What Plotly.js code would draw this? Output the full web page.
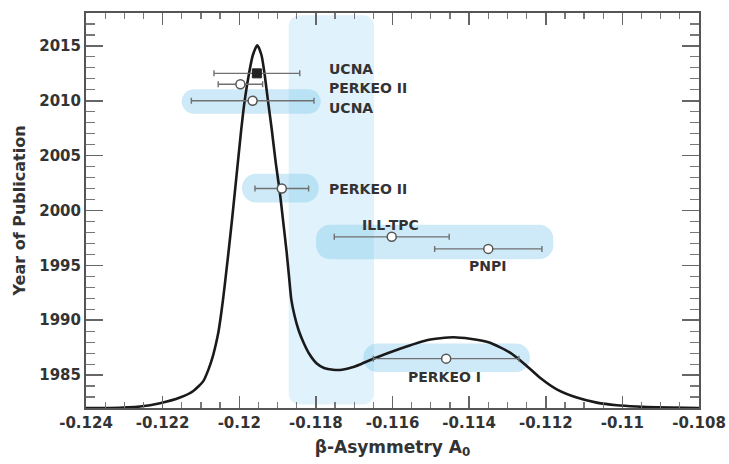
<!DOCTYPE html>
<html>
<head>
<meta charset="utf-8">
<script src="https://cdn.plot.ly/plotly-3.0.1.min.js"></script>
<style>html,body{margin:0;padding:0;background:#fff;}#chart{width:729px;height:464px;}</style>
</head>
<body>
<div id="chart"></div>
<script>
// ---- Data ----
// Ideogram curve (beta-asymmetry A0 vs. "year" scale)
const curveA = [-0.124000,-0.123374,-0.122590,-0.122068,-0.121546,-0.121199,-0.120938,-0.120802,-0.120698,-0.120612,-0.120547,-0.120481,-0.120424,-0.120382,-0.120283,-0.120189,-0.120038,-0.119949,-0.119860,-0.119745,-0.119646,-0.119529,-0.119419,-0.119341,-0.119249,-0.119150,-0.119046,-0.118949,-0.118858,-0.118761,-0.118693,-0.118641,-0.118558,-0.118448,-0.118323,-0.118179,-0.117978,-0.117787,-0.117553,-0.117318,-0.117023,-0.116848,-0.116500,-0.115804,-0.115107,-0.114412,-0.113976,-0.113454,-0.112932,-0.112541,-0.112149,-0.111713,-0.111191,-0.110669,-0.110147,-0.109625,-0.109103,-0.108000];
const curveYear = [1982.00,1982.00,1982.13,1982.43,1982.95,1983.55,1984.45,1985.52,1986.61,1987.79,1988.85,1990.36,1991.88,1993.09,1996.13,1999.15,2004.31,2007.34,2009.97,2012.49,2014.15,2015.06,2014.15,2012.49,2009.97,2007.34,2004.31,2001.88,1999.15,1996.13,1993.70,1991.88,1990.43,1989.06,1987.97,1986.97,1986.06,1985.65,1985.49,1985.49,1985.73,1985.97,1986.49,1987.40,1988.18,1988.45,1988.31,1987.95,1987.04,1985.97,1984.76,1983.70,1982.95,1982.49,1982.25,1982.13,1982.06,1982.00];

// Measurements
const expNames  = ['UCNA', 'PERKEO II', 'UCNA', 'PERKEO II', 'ILL-TPC', 'PNPI', 'PERKEO I'];
const expA      = [-0.11954, -0.11997, -0.11965, -0.11889, -0.11602, -0.11350, -0.11460];
const expErr    = [0.00112, 0.00058, 0.00160, 0.00070, 0.00150, 0.00140, 0.00190];
const expYear   = [2012.5, 2011.5, 2010.0, 2002.0, 1997.6, 1996.5, 1986.5];
const expFilled = [true, false, false, false, false, false, false];

// Labels
const labelText = ['UCNA', 'PERKEO II', 'UCNA', 'PERKEO II', 'ILL-TPC', 'PNPI', 'PERKEO I'];
const labelA    = [-0.11770, -0.11770, -0.11770, -0.11770, -0.11604, -0.11351, -0.11463];
const labelYear = [2012.88, 2011.15, 2009.34, 2001.97, 1998.67, 1994.97, 1984.82];
const labelAnchor = ['left', 'left', 'left', 'left', 'center', 'center', 'center'];

// Highlight regions (A0 range, year range)
const bandA0   = [-0.118709];
const bandA1   = [-0.116482];
const bandY0   = [1982.33];
const bandY1   = [2017.79];
const pillA0   = [-0.121502, -0.119928, -0.117996, -0.116762];
const pillA1   = [-0.117874, -0.117926, -0.111802, -0.112410];
const pillY0   = [2008.82, 2000.73, 1995.56, 1985.27];
const pillY1   = [2011.06, 2003.34, 1998.70, 1987.88];

// Axis ticks
const xTickVals = [-0.124, -0.122, -0.120, -0.118, -0.116, -0.114, -0.112, -0.110, -0.108];
const xTickText = ['-0.124', '-0.122', '-0.12', '-0.118', '-0.116', '-0.114', '-0.112', '-0.11', '-0.108'];
const yTickVals = [1985, 1990, 1995, 2000, 2005, 2010, 2015];
const yTickText = ['1985', '1990', '1995', '2000', '2005', '2010', '2015'];

// ---- Layout geometry ----
const W = 729, H = 464;
const M = {l: 86, r: 30, t: 13, b: 56};
const xRange = [-0.124, -0.108], yRange = [1982, 2018];
const plotW = W - M.l - M.r, plotH = H - M.t - M.b;
const xPerPx = (xRange[1] - xRange[0]) / plotW;
const yPerPx = (yRange[1] - yRange[0]) / plotH;

function f(v) { return v.toFixed(7); }
function roundedPath(x0, x1, y0, y1, rPx) {
  const wPx = (x1 - x0) / xPerPx, hPx = (y1 - y0) / yPerPx;
  const r = Math.min(rPx, wPx / 2, hPx / 2);
  const rx = r * xPerPx, ry = r * yPerPx, k = 0.5523;
  return 'M' + f(x0 + rx) + ',' + f(y0) +
    ' L' + f(x1 - rx) + ',' + f(y0) +
    ' C' + f(x1 - rx + k * rx) + ',' + f(y0) + ' ' + f(x1) + ',' + f(y0 + ry - k * ry) + ' ' + f(x1) + ',' + f(y0 + ry) +
    ' L' + f(x1) + ',' + f(y1 - ry) +
    ' C' + f(x1) + ',' + f(y1 - ry + k * ry) + ' ' + f(x1 - rx + k * rx) + ',' + f(y1) + ' ' + f(x1 - rx) + ',' + f(y1) +
    ' L' + f(x0 + rx) + ',' + f(y1) +
    ' C' + f(x0 + rx - k * rx) + ',' + f(y1) + ' ' + f(x0) + ',' + f(y1 - ry + k * ry) + ' ' + f(x0) + ',' + f(y1 - ry) +
    ' L' + f(x0) + ',' + f(y0 + ry) +
    ' C' + f(x0) + ',' + f(y0 + ry - k * ry) + ' ' + f(x0 + rx - k * rx) + ',' + f(y0) + ' ' + f(x0 + rx) + ',' + f(y0) + ' Z';
}

const shapes = [];
for (let i = 0; i < bandA0.length; i++) {
  shapes.push({type: 'path', xref: 'x', yref: 'y', layer: 'below',
    path: roundedPath(bandA0[i], bandA1[i], bandY0[i], bandY1[i], 11),
    fillcolor: 'rgba(120,198,236,0.23)', line: {width: 0}});
}
for (let i = 0; i < pillA0.length; i++) {
  shapes.push({type: 'path', xref: 'x', yref: 'y', layer: 'below',
    path: roundedPath(pillA0[i], pillA1[i], pillY0[i], pillY1[i], 14),
    fillcolor: 'rgba(120,198,236,0.36)', line: {width: 0}});
}

const FONT = 'DejaVu Sans, Liberation Sans, sans-serif';
const TXT = '#333333';

function pick(arr, filled) { return arr.filter((_, i) => expFilled[i] === filled); }

const traces = [
  {x: curveA, y: curveYear, type: 'scatter', mode: 'lines',
   line: {color: '#1a1a1a', width: 2.6, shape: 'spline', smoothing: 0.6},
   hoverinfo: 'skip', showlegend: false},
  {x: pick(expA, false), y: pick(expYear, false), type: 'scatter', mode: 'markers',
   text: pick(expNames, false),
   error_x: {type: 'data', array: pick(expErr, false), color: '#707070', thickness: 1.4, width: 3},
   marker: {symbol: 'circle', size: 9, color: '#ffffff', line: {color: '#555555', width: 1.5}},
   showlegend: false},
  {x: pick(expA, true), y: pick(expYear, true), type: 'scatter', mode: 'markers',
   text: pick(expNames, true),
   error_x: {type: 'data', array: pick(expErr, true), color: '#707070', thickness: 1.4, width: 3},
   marker: {symbol: 'square', size: 9, color: '#222222', line: {color: '#222222', width: 1}},
   showlegend: false}
];

const annotations = labelText.map((t, i) => ({
  x: labelA[i], y: labelYear[i], xref: 'x', yref: 'y', text: t, showarrow: false,
  xanchor: labelAnchor[i], yanchor: 'middle',
  font: {family: FONT, size: 14, color: TXT, weight: 'bold'}
}));

const layout = {
  width: W, height: H,
  margin: M,
  paper_bgcolor: '#ffffff', plot_bgcolor: '#ffffff',
  showlegend: false,
  shapes: shapes,
  annotations: annotations,
  xaxis: {
    range: xRange, tickmode: 'array', tickvals: xTickVals, ticktext: xTickText,
    ticks: 'inside', ticklen: 12, tickwidth: 1.5, tickcolor: '#666666',
    minor: {tickmode: 'linear', tick0: -0.124, dtick: 0.0005, ticks: 'inside', ticklen: 6, tickwidth: 1.2, tickcolor: '#777777', showgrid: false},
    showline: true, linecolor: '#555555', linewidth: 2, mirror: 'allticks',
    showgrid: false, zeroline: false,
    tickfont: {family: FONT, size: 15, color: TXT, weight: 'bold'},
    title: {text: 'β-Asymmetry A<sub>0</sub>',
            font: {family: FONT, size: 17, color: TXT, weight: 'bold'}, standoff: 10}
  },
  yaxis: {
    range: yRange, tickmode: 'array', tickvals: yTickVals, ticktext: yTickText,
    ticks: 'inside', ticklen: 17, tickwidth: 1.5, tickcolor: '#666666',
    minor: {tickmode: 'linear', tick0: 1982, dtick: 1, ticks: 'inside', ticklen: 9, tickwidth: 1.2, tickcolor: '#777777', showgrid: false},
    showline: true, linecolor: '#555555', linewidth: 2, mirror: 'allticks',
    showgrid: false, zeroline: false,
    tickfont: {family: FONT, size: 15, color: TXT, weight: 'bold'},
    title: {text: 'Year of Publication', font: {family: FONT, size: 16, color: TXT, weight: 'bold'}, standoff: 10}
  }
};

Plotly.newPlot('chart', traces, layout, {staticPlot: true, displayModeBar: false});
</script>
</body>
</html>
